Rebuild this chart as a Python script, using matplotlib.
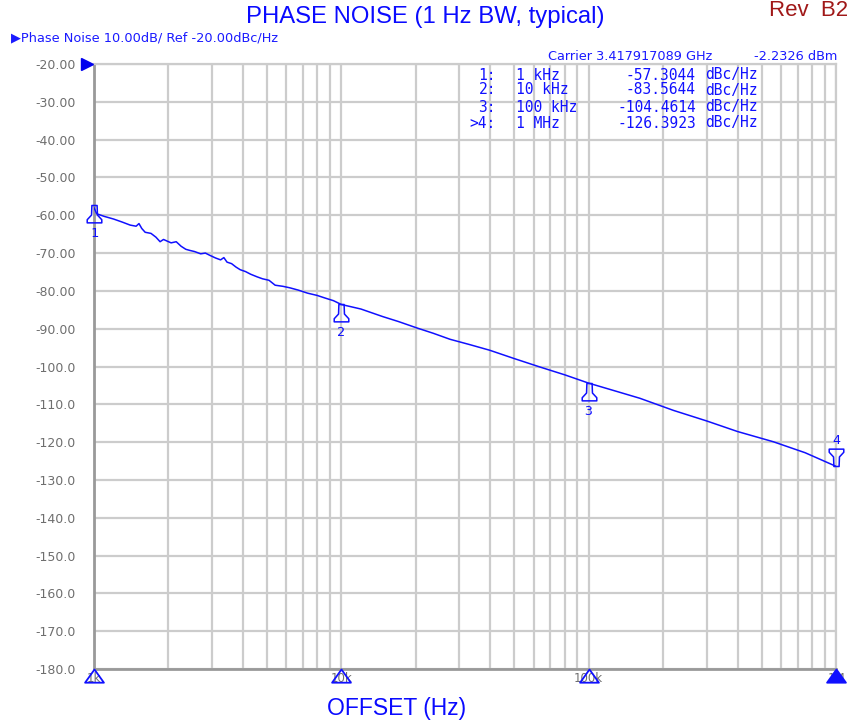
import numpy as np
import matplotlib
matplotlib.use("Agg")
import matplotlib.pyplot as plt
from matplotlib.path import Path
from matplotlib.ticker import LogLocator, FixedLocator, NullFormatter
import matplotlib.transforms as mtransforms

# ---------------- data ----------------
offset_hz = [1000, 1025, 1100, 1200, 1300, 1400, 1480, 1520, 1560, 1610, 1700, 1780,
             1850, 1910, 1970, 2050, 2150, 2250, 2350, 2440, 2550, 2700, 2820, 2940,
             3100, 3250, 3350, 3450, 3600, 3750, 3900, 4100, 4300, 4570, 4800, 5100,
             5400, 5810, 6200, 6700, 7300, 7980, 8600, 9300, 10000, 12000, 14700,
             17000, 20200, 23500, 27500, 33000, 39800, 50000, 63300, 80000, 100000,
             130000, 161000, 220000, 300000, 400000, 558000, 750000, 1000000]
phase_noise = [-58.0, -59.6, -60.3, -61.0, -61.8, -62.6, -62.9, -62.2, -63.5, -64.5, -64.8, -65.8,
               -67.0, -66.4, -66.8, -67.3, -67.0, -68.2, -69.0, -69.3, -69.6, -70.2, -70.0, -70.6,
               -71.3, -71.8, -71.2, -72.4, -72.8, -73.7, -74.4, -74.9, -75.6, -76.3, -76.8, -77.2,
               -78.5, -78.8, -79.2, -79.8, -80.6, -81.2, -81.9, -82.6, -83.6, -84.8, -86.8,
               -88.1, -89.8, -91.2, -92.8, -94.2, -95.7, -97.9, -100.1, -102.2, -104.4,
               -106.6, -108.4, -111.6, -114.4, -117.2, -119.9, -122.8, -126.4]

marker_ids = ["1", "2", "3", "4"]
marker_freqs = [1e3, 1e4, 1e5, 1e6]
marker_vals = [-57.3044, -83.5644, -104.4614, -126.3923]
marker_freq_labels = ["1 kHz", "10 kHz", "100 kHz", "1 MHz"]
marker_val_labels = ["-57.3044", "-83.5644", "-104.4614", "-126.3923"]

y_ticks = [-20, -30, -40, -50, -60, -70, -80, -90, -100, -110, -120, -130,
           -140, -150, -160, -170, -180]
y_tick_labels = ["-20.00", "-30.00", "-40.00", "-50.00", "-60.00", "-70.00", "-80.00",
                 "-90.00", "-100.0", "-110.0", "-120.0", "-130.0", "-140.0", "-150.0",
                 "-160.0", "-170.0", "-180.0"]
x_ticks = [1e3, 1e4, 1e5, 1e6]
x_tick_labels = ["1k", "10k", "100k", "1M"]

# ---------------- figure ----------------
W, H = 851, 724
fig = plt.figure(figsize=(W / 100, H / 100), dpi=100)
L, R, T, B = 94, 836, 64, 669
ax = fig.add_axes([L / W, 1 - B / H, (R - L) / W, (B - T) / H])

blue = "#1010ff"
grid_c = "#cccccc"
label_c = "#6e6e6e"

ax.set_xscale("log")
ax.set_xlim(1e3, 1e6)
ax.set_ylim(-180, -20)

ax.xaxis.set_major_locator(FixedLocator(x_ticks))
ax.xaxis.set_minor_locator(LogLocator(base=10, subs=np.arange(2, 10)))
ax.xaxis.set_minor_formatter(NullFormatter())
ax.set_xticklabels(x_tick_labels)
ax.set_yticks(y_ticks)
ax.set_yticklabels(y_tick_labels)

ax.grid(True, which="both", axis="x", color=grid_c, lw=1.6)
ax.grid(True, which="major", axis="y", color=grid_c, lw=1.6)
ax.set_axisbelow(True)

ax.tick_params(axis="both", which="both", length=0)
ax.tick_params(axis="y", labelsize=9, labelcolor=label_c, pad=13)
ax.tick_params(axis="x", labelsize=8.5, labelcolor=label_c, pad=2)

for s in ["top", "right"]:
    ax.spines[s].set_color(grid_c)
    ax.spines[s].set_linewidth(1.6)
for s in ["left", "bottom"]:
    ax.spines[s].set_color("#999999")
    ax.spines[s].set_linewidth(2)

# trace
ax.plot(offset_hz, phase_noise, color=blue, lw=1.1, zorder=3)

# marker shapes (apex at the data point)
cone = Path([(-0.15, 0), (0.15, 0), (0.17, -0.55), (0.42, -0.82), (0.42, -1.0),
             (-0.42, -1.0), (-0.42, -0.82), (-0.17, -0.55), (-0.15, 0)],
            [Path.MOVETO] + [Path.LINETO] * 7 + [Path.CLOSEPOLY])
cone_dn = Path([(x, -y) for x, y in cone.vertices], cone.codes)

for i, (mid, f, v) in enumerate(zip(marker_ids, marker_freqs, marker_vals)):
    if i < 3:
        ax.plot([f], [v], marker=cone, ms=25, mfc="none", mec=blue, mew=1.1,
                ls="none", clip_on=False, zorder=4)
        ax.annotate(mid, (f, v), xytext=(0, -15.5), textcoords="offset points",
                    ha="center", va="top", color=blue, fontsize=9.5,
                    family="DejaVu Sans Mono", annotation_clip=False)
    else:
        ax.plot([f], [v], marker=cone_dn, ms=25, mfc="none", mec=blue, mew=1.1,
                ls="none", clip_on=False, zorder=4)
        ax.annotate(mid, (f, v), xytext=(0, 14), textcoords="offset points",
                    ha="center", va="bottom", color=blue, fontsize=9.5,
                    family="DejaVu Sans Mono", annotation_clip=False)

# bottom axis markers
tri = Path([(0, 0), (0.5, -0.7), (-0.5, -0.7), (0, 0)],
           [Path.MOVETO, Path.LINETO, Path.LINETO, Path.CLOSEPOLY])
for i, f in enumerate(marker_freqs):
    ax.plot([f], [-180], marker=tri, ms=19, mfc=(blue if i == 3 else "none"),
            mec=blue, mew=1.3, ls="none", clip_on=False, zorder=5)

# reference level arrow
ref_line, = ax.plot([1e3], [-20], marker=">", ms=9, color="#0000ee", ls="none",
                    clip_on=False, zorder=5)
ref_line.set_transform(ax.transData + mtransforms.ScaledTranslation(-7 / 100, 0, fig.dpi_scale_trans))

# ---------------- texts ----------------
def px(x, y):
    return x / W, 1 - y / H

fig.text(*px(425, 17), "PHASE NOISE (1 Hz BW, typical)", ha="center", va="center",
         color="#0a0aff", fontsize=17.2, family="Liberation Sans")
fig.text(*px(848, 10), "Rev  B2", ha="right", va="center", color="#a01818",
         fontsize=16.0, family="Liberation Sans")
fig.text(*px(397, 708), "OFFSET (Hz)", ha="center", va="center", color="#0a0aff",
         fontsize=16.5, family="Liberation Sans")
fig.text(*px(11, 38), "\u25b6Phase Noise 10.00dB/ Ref -20.00dBc/Hz", ha="left",
         va="center", color="#1a1aff", fontsize=9.3)
fig.text(*px(548, 57), "Carrier 3.417917089 GHz", ha="left", va="center",
         color="#1a1aff", fontsize=9.3)
fig.text(*px(837, 57), "-2.2326 dBm", ha="right", va="center",
         color="#1a1aff", fontsize=9.3)

row_y = [75, 90, 107, 123]
for i in range(4):
    idx = (">" if i == 3 else "") + marker_ids[i] + ":"
    fig.text(*px(496, row_y[i]), idx, ha="right", va="center", color=blue,
             fontsize=10.5, family="DejaVu Sans Mono")
    fig.text(*px(516, row_y[i]), marker_freq_labels[i], ha="left", va="center",
             color=blue, fontsize=10.5, family="DejaVu Sans Mono")
    fig.text(*px(696, row_y[i]), marker_val_labels[i], ha="right", va="center",
             color=blue, fontsize=10.5, family="DejaVu Sans Mono")
    fig.text(*px(705, row_y[i]), "dBc/Hz", ha="left", va="center",
             color=blue, fontsize=10.5, family="DejaVu Sans Mono")

fig.savefig("out.png", dpi=100)
